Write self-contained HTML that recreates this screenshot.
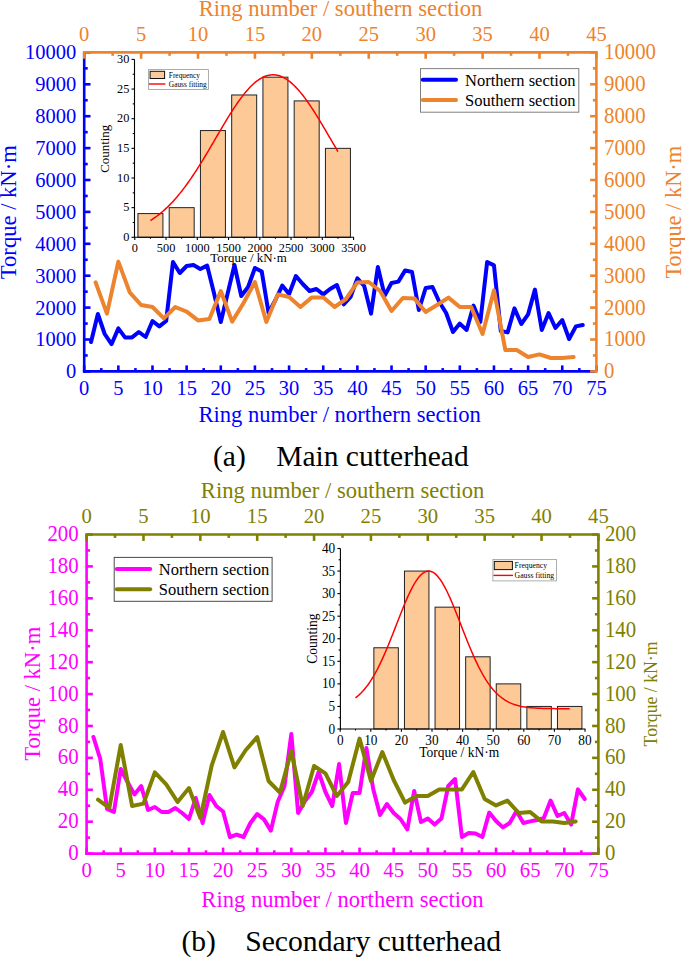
<!DOCTYPE html><html><head><meta charset="utf-8"><style>html,body{margin:0;padding:0;background:#fff;}svg{display:block;}</style></head><body>
<svg width="685" height="957" viewBox="0 0 685 957" style="font-family:'Liberation Serif',serif">
<rect width="685" height="957" fill="#fff"/>
<polyline points="91.03,342.00 97.86,314.00 104.69,334.00 111.52,344.20 118.35,328.40 125.18,337.60 132.01,337.40 138.83,332.00 145.66,337.00 152.49,321.00 159.32,326.40 166.15,321.00 172.98,262.00 179.81,273.00 186.64,266.00 193.47,265.00 200.30,269.00 207.13,265.60 213.96,293.00 220.79,322.00 227.62,293.60 234.45,265.00 241.27,296.00 248.10,287.00 254.93,268.00 261.76,271.60 268.59,313.00 275.42,300.00 282.25,285.60 289.08,294.00 295.91,276.00 302.74,284.00 309.57,291.00 316.40,289.00 323.23,294.40 330.06,289.00 336.89,285.00 343.71,304.40 350.54,297.00 357.37,278.40 364.20,286.00 371.03,313.60 377.86,267.00 384.69,295.60 391.52,283.00 398.35,281.60 405.18,270.40 412.01,272.00 418.84,310.00 425.67,288.00 432.50,287.00 439.33,302.00 446.15,313.00 452.98,332.00 459.81,323.60 466.64,330.00 473.47,305.60 480.30,322.00 487.13,262.00 493.96,265.40 500.79,331.00 507.62,332.40 514.45,308.40 521.28,324.00 528.11,314.40 534.94,289.60 541.77,330.00 548.59,313.00 555.42,328.00 562.25,320.00 569.08,339.00 575.91,326.40 582.74,325.00" fill="none" stroke="#0000FF" stroke-width="4" stroke-linejoin="round" stroke-linecap="round"/>
<polyline points="95.58,282.40 106.96,313.60 118.35,261.60 129.73,292.40 141.11,305.00 152.49,307.00 163.88,318.40 175.26,307.00 186.64,311.60 198.02,320.40 209.40,319.00 220.79,291.00 232.17,321.60 243.55,303.00 254.93,282.00 266.32,322.00 277.70,294.40 289.08,297.00 300.46,307.00 311.84,297.40 323.23,297.40 334.61,307.00 345.99,299.00 357.37,282.40 368.76,282.00 380.14,291.00 391.52,311.00 402.90,298.00 414.28,298.40 425.67,312.00 437.05,305.00 448.43,297.60 459.81,307.00 471.20,307.00 482.58,334.00 493.96,290.40 505.34,350.00 516.72,350.00 528.11,357.00 539.49,354.40 550.87,358.00 562.25,358.00 573.64,357.00" fill="none" stroke="#ED832D" stroke-width="4" stroke-linejoin="round" stroke-linecap="round"/>
<line x1="84.20" y1="52.40" x2="84.20" y2="372.70" stroke="#0000FF" stroke-width="2.6" stroke-linecap="butt"/>
<line x1="84.20" y1="371.40" x2="90.50" y2="371.40" stroke="#0000FF" stroke-width="2.6" stroke-linecap="butt"/>
<line x1="84.20" y1="355.45" x2="87.70" y2="355.45" stroke="#0000FF" stroke-width="2.6" stroke-linecap="butt"/>
<line x1="84.20" y1="339.50" x2="90.50" y2="339.50" stroke="#0000FF" stroke-width="2.6" stroke-linecap="butt"/>
<line x1="84.20" y1="323.55" x2="87.70" y2="323.55" stroke="#0000FF" stroke-width="2.6" stroke-linecap="butt"/>
<line x1="84.20" y1="307.60" x2="90.50" y2="307.60" stroke="#0000FF" stroke-width="2.6" stroke-linecap="butt"/>
<line x1="84.20" y1="291.65" x2="87.70" y2="291.65" stroke="#0000FF" stroke-width="2.6" stroke-linecap="butt"/>
<line x1="84.20" y1="275.70" x2="90.50" y2="275.70" stroke="#0000FF" stroke-width="2.6" stroke-linecap="butt"/>
<line x1="84.20" y1="259.75" x2="87.70" y2="259.75" stroke="#0000FF" stroke-width="2.6" stroke-linecap="butt"/>
<line x1="84.20" y1="243.80" x2="90.50" y2="243.80" stroke="#0000FF" stroke-width="2.6" stroke-linecap="butt"/>
<line x1="84.20" y1="227.85" x2="87.70" y2="227.85" stroke="#0000FF" stroke-width="2.6" stroke-linecap="butt"/>
<line x1="84.20" y1="211.90" x2="90.50" y2="211.90" stroke="#0000FF" stroke-width="2.6" stroke-linecap="butt"/>
<line x1="84.20" y1="195.95" x2="87.70" y2="195.95" stroke="#0000FF" stroke-width="2.6" stroke-linecap="butt"/>
<line x1="84.20" y1="180.00" x2="90.50" y2="180.00" stroke="#0000FF" stroke-width="2.6" stroke-linecap="butt"/>
<line x1="84.20" y1="164.05" x2="87.70" y2="164.05" stroke="#0000FF" stroke-width="2.6" stroke-linecap="butt"/>
<line x1="84.20" y1="148.10" x2="90.50" y2="148.10" stroke="#0000FF" stroke-width="2.6" stroke-linecap="butt"/>
<line x1="84.20" y1="132.15" x2="87.70" y2="132.15" stroke="#0000FF" stroke-width="2.6" stroke-linecap="butt"/>
<line x1="84.20" y1="116.20" x2="90.50" y2="116.20" stroke="#0000FF" stroke-width="2.6" stroke-linecap="butt"/>
<line x1="84.20" y1="100.25" x2="87.70" y2="100.25" stroke="#0000FF" stroke-width="2.6" stroke-linecap="butt"/>
<line x1="84.20" y1="84.30" x2="90.50" y2="84.30" stroke="#0000FF" stroke-width="2.6" stroke-linecap="butt"/>
<line x1="84.20" y1="68.35" x2="87.70" y2="68.35" stroke="#0000FF" stroke-width="2.6" stroke-linecap="butt"/>
<line x1="84.20" y1="52.40" x2="90.50" y2="52.40" stroke="#0000FF" stroke-width="2.6" stroke-linecap="butt"/>
<line x1="82.90" y1="371.40" x2="596.40" y2="371.40" stroke="#0000FF" stroke-width="2.6" stroke-linecap="butt"/>
<line x1="84.20" y1="371.40" x2="84.20" y2="365.40" stroke="#0000FF" stroke-width="2.6" stroke-linecap="butt"/>
<line x1="101.27" y1="371.40" x2="101.27" y2="368.10" stroke="#0000FF" stroke-width="2.6" stroke-linecap="butt"/>
<line x1="118.35" y1="371.40" x2="118.35" y2="365.40" stroke="#0000FF" stroke-width="2.6" stroke-linecap="butt"/>
<line x1="135.42" y1="371.40" x2="135.42" y2="368.10" stroke="#0000FF" stroke-width="2.6" stroke-linecap="butt"/>
<line x1="152.49" y1="371.40" x2="152.49" y2="365.40" stroke="#0000FF" stroke-width="2.6" stroke-linecap="butt"/>
<line x1="169.57" y1="371.40" x2="169.57" y2="368.10" stroke="#0000FF" stroke-width="2.6" stroke-linecap="butt"/>
<line x1="186.64" y1="371.40" x2="186.64" y2="365.40" stroke="#0000FF" stroke-width="2.6" stroke-linecap="butt"/>
<line x1="203.71" y1="371.40" x2="203.71" y2="368.10" stroke="#0000FF" stroke-width="2.6" stroke-linecap="butt"/>
<line x1="220.79" y1="371.40" x2="220.79" y2="365.40" stroke="#0000FF" stroke-width="2.6" stroke-linecap="butt"/>
<line x1="237.86" y1="371.40" x2="237.86" y2="368.10" stroke="#0000FF" stroke-width="2.6" stroke-linecap="butt"/>
<line x1="254.93" y1="371.40" x2="254.93" y2="365.40" stroke="#0000FF" stroke-width="2.6" stroke-linecap="butt"/>
<line x1="272.01" y1="371.40" x2="272.01" y2="368.10" stroke="#0000FF" stroke-width="2.6" stroke-linecap="butt"/>
<line x1="289.08" y1="371.40" x2="289.08" y2="365.40" stroke="#0000FF" stroke-width="2.6" stroke-linecap="butt"/>
<line x1="306.15" y1="371.40" x2="306.15" y2="368.10" stroke="#0000FF" stroke-width="2.6" stroke-linecap="butt"/>
<line x1="323.23" y1="371.40" x2="323.23" y2="365.40" stroke="#0000FF" stroke-width="2.6" stroke-linecap="butt"/>
<line x1="340.30" y1="371.40" x2="340.30" y2="368.10" stroke="#0000FF" stroke-width="2.6" stroke-linecap="butt"/>
<line x1="357.37" y1="371.40" x2="357.37" y2="365.40" stroke="#0000FF" stroke-width="2.6" stroke-linecap="butt"/>
<line x1="374.45" y1="371.40" x2="374.45" y2="368.10" stroke="#0000FF" stroke-width="2.6" stroke-linecap="butt"/>
<line x1="391.52" y1="371.40" x2="391.52" y2="365.40" stroke="#0000FF" stroke-width="2.6" stroke-linecap="butt"/>
<line x1="408.59" y1="371.40" x2="408.59" y2="368.10" stroke="#0000FF" stroke-width="2.6" stroke-linecap="butt"/>
<line x1="425.67" y1="371.40" x2="425.67" y2="365.40" stroke="#0000FF" stroke-width="2.6" stroke-linecap="butt"/>
<line x1="442.74" y1="371.40" x2="442.74" y2="368.10" stroke="#0000FF" stroke-width="2.6" stroke-linecap="butt"/>
<line x1="459.81" y1="371.40" x2="459.81" y2="365.40" stroke="#0000FF" stroke-width="2.6" stroke-linecap="butt"/>
<line x1="476.89" y1="371.40" x2="476.89" y2="368.10" stroke="#0000FF" stroke-width="2.6" stroke-linecap="butt"/>
<line x1="493.96" y1="371.40" x2="493.96" y2="365.40" stroke="#0000FF" stroke-width="2.6" stroke-linecap="butt"/>
<line x1="511.03" y1="371.40" x2="511.03" y2="368.10" stroke="#0000FF" stroke-width="2.6" stroke-linecap="butt"/>
<line x1="528.11" y1="371.40" x2="528.11" y2="365.40" stroke="#0000FF" stroke-width="2.6" stroke-linecap="butt"/>
<line x1="545.18" y1="371.40" x2="545.18" y2="368.10" stroke="#0000FF" stroke-width="2.6" stroke-linecap="butt"/>
<line x1="562.25" y1="371.40" x2="562.25" y2="365.40" stroke="#0000FF" stroke-width="2.6" stroke-linecap="butt"/>
<line x1="579.33" y1="371.40" x2="579.33" y2="368.10" stroke="#0000FF" stroke-width="2.6" stroke-linecap="butt"/>
<line x1="596.40" y1="371.40" x2="596.40" y2="365.40" stroke="#0000FF" stroke-width="2.6" stroke-linecap="butt"/>
<line x1="596.40" y1="52.40" x2="596.40" y2="372.70" stroke="#ED832D" stroke-width="2.6" stroke-linecap="butt"/>
<line x1="596.40" y1="371.40" x2="590.10" y2="371.40" stroke="#ED832D" stroke-width="2.6" stroke-linecap="butt"/>
<line x1="596.40" y1="355.45" x2="592.90" y2="355.45" stroke="#ED832D" stroke-width="2.6" stroke-linecap="butt"/>
<line x1="596.40" y1="339.50" x2="590.10" y2="339.50" stroke="#ED832D" stroke-width="2.6" stroke-linecap="butt"/>
<line x1="596.40" y1="323.55" x2="592.90" y2="323.55" stroke="#ED832D" stroke-width="2.6" stroke-linecap="butt"/>
<line x1="596.40" y1="307.60" x2="590.10" y2="307.60" stroke="#ED832D" stroke-width="2.6" stroke-linecap="butt"/>
<line x1="596.40" y1="291.65" x2="592.90" y2="291.65" stroke="#ED832D" stroke-width="2.6" stroke-linecap="butt"/>
<line x1="596.40" y1="275.70" x2="590.10" y2="275.70" stroke="#ED832D" stroke-width="2.6" stroke-linecap="butt"/>
<line x1="596.40" y1="259.75" x2="592.90" y2="259.75" stroke="#ED832D" stroke-width="2.6" stroke-linecap="butt"/>
<line x1="596.40" y1="243.80" x2="590.10" y2="243.80" stroke="#ED832D" stroke-width="2.6" stroke-linecap="butt"/>
<line x1="596.40" y1="227.85" x2="592.90" y2="227.85" stroke="#ED832D" stroke-width="2.6" stroke-linecap="butt"/>
<line x1="596.40" y1="211.90" x2="590.10" y2="211.90" stroke="#ED832D" stroke-width="2.6" stroke-linecap="butt"/>
<line x1="596.40" y1="195.95" x2="592.90" y2="195.95" stroke="#ED832D" stroke-width="2.6" stroke-linecap="butt"/>
<line x1="596.40" y1="180.00" x2="590.10" y2="180.00" stroke="#ED832D" stroke-width="2.6" stroke-linecap="butt"/>
<line x1="596.40" y1="164.05" x2="592.90" y2="164.05" stroke="#ED832D" stroke-width="2.6" stroke-linecap="butt"/>
<line x1="596.40" y1="148.10" x2="590.10" y2="148.10" stroke="#ED832D" stroke-width="2.6" stroke-linecap="butt"/>
<line x1="596.40" y1="132.15" x2="592.90" y2="132.15" stroke="#ED832D" stroke-width="2.6" stroke-linecap="butt"/>
<line x1="596.40" y1="116.20" x2="590.10" y2="116.20" stroke="#ED832D" stroke-width="2.6" stroke-linecap="butt"/>
<line x1="596.40" y1="100.25" x2="592.90" y2="100.25" stroke="#ED832D" stroke-width="2.6" stroke-linecap="butt"/>
<line x1="596.40" y1="84.30" x2="590.10" y2="84.30" stroke="#ED832D" stroke-width="2.6" stroke-linecap="butt"/>
<line x1="596.40" y1="68.35" x2="592.90" y2="68.35" stroke="#ED832D" stroke-width="2.6" stroke-linecap="butt"/>
<line x1="596.40" y1="52.40" x2="590.10" y2="52.40" stroke="#ED832D" stroke-width="2.6" stroke-linecap="butt"/>
<line x1="82.90" y1="52.40" x2="597.70" y2="52.40" stroke="#ED832D" stroke-width="2.6" stroke-linecap="butt"/>
<line x1="84.20" y1="52.40" x2="84.20" y2="58.80" stroke="#ED832D" stroke-width="2.6" stroke-linecap="butt"/>
<line x1="112.66" y1="52.40" x2="112.66" y2="55.80" stroke="#ED832D" stroke-width="2.6" stroke-linecap="butt"/>
<line x1="141.11" y1="52.40" x2="141.11" y2="58.80" stroke="#ED832D" stroke-width="2.6" stroke-linecap="butt"/>
<line x1="169.57" y1="52.40" x2="169.57" y2="55.80" stroke="#ED832D" stroke-width="2.6" stroke-linecap="butt"/>
<line x1="198.02" y1="52.40" x2="198.02" y2="58.80" stroke="#ED832D" stroke-width="2.6" stroke-linecap="butt"/>
<line x1="226.48" y1="52.40" x2="226.48" y2="55.80" stroke="#ED832D" stroke-width="2.6" stroke-linecap="butt"/>
<line x1="254.93" y1="52.40" x2="254.93" y2="58.80" stroke="#ED832D" stroke-width="2.6" stroke-linecap="butt"/>
<line x1="283.39" y1="52.40" x2="283.39" y2="55.80" stroke="#ED832D" stroke-width="2.6" stroke-linecap="butt"/>
<line x1="311.84" y1="52.40" x2="311.84" y2="58.80" stroke="#ED832D" stroke-width="2.6" stroke-linecap="butt"/>
<line x1="340.30" y1="52.40" x2="340.30" y2="55.80" stroke="#ED832D" stroke-width="2.6" stroke-linecap="butt"/>
<line x1="368.76" y1="52.40" x2="368.76" y2="58.80" stroke="#ED832D" stroke-width="2.6" stroke-linecap="butt"/>
<line x1="397.21" y1="52.40" x2="397.21" y2="55.80" stroke="#ED832D" stroke-width="2.6" stroke-linecap="butt"/>
<line x1="425.67" y1="52.40" x2="425.67" y2="58.80" stroke="#ED832D" stroke-width="2.6" stroke-linecap="butt"/>
<line x1="454.12" y1="52.40" x2="454.12" y2="55.80" stroke="#ED832D" stroke-width="2.6" stroke-linecap="butt"/>
<line x1="482.58" y1="52.40" x2="482.58" y2="58.80" stroke="#ED832D" stroke-width="2.6" stroke-linecap="butt"/>
<line x1="511.03" y1="52.40" x2="511.03" y2="55.80" stroke="#ED832D" stroke-width="2.6" stroke-linecap="butt"/>
<line x1="539.49" y1="52.40" x2="539.49" y2="58.80" stroke="#ED832D" stroke-width="2.6" stroke-linecap="butt"/>
<line x1="567.94" y1="52.40" x2="567.94" y2="55.80" stroke="#ED832D" stroke-width="2.6" stroke-linecap="butt"/>
<line x1="596.40" y1="52.40" x2="596.40" y2="58.80" stroke="#ED832D" stroke-width="2.6" stroke-linecap="butt"/>
<text x="0" y="0" font-size="20.5" fill="#0000FF" text-anchor="middle" transform="translate(84.20 394.80) scale(1 1.06)">0</text>
<text x="0" y="0" font-size="20.5" fill="#0000FF" text-anchor="middle" transform="translate(118.35 394.80) scale(1 1.06)">5</text>
<text x="0" y="0" font-size="20.5" fill="#0000FF" text-anchor="middle" transform="translate(152.49 394.80) scale(1 1.06)">10</text>
<text x="0" y="0" font-size="20.5" fill="#0000FF" text-anchor="middle" transform="translate(186.64 394.80) scale(1 1.06)">15</text>
<text x="0" y="0" font-size="20.5" fill="#0000FF" text-anchor="middle" transform="translate(220.79 394.80) scale(1 1.06)">20</text>
<text x="0" y="0" font-size="20.5" fill="#0000FF" text-anchor="middle" transform="translate(254.93 394.80) scale(1 1.06)">25</text>
<text x="0" y="0" font-size="20.5" fill="#0000FF" text-anchor="middle" transform="translate(289.08 394.80) scale(1 1.06)">30</text>
<text x="0" y="0" font-size="20.5" fill="#0000FF" text-anchor="middle" transform="translate(323.23 394.80) scale(1 1.06)">35</text>
<text x="0" y="0" font-size="20.5" fill="#0000FF" text-anchor="middle" transform="translate(357.37 394.80) scale(1 1.06)">40</text>
<text x="0" y="0" font-size="20.5" fill="#0000FF" text-anchor="middle" transform="translate(391.52 394.80) scale(1 1.06)">45</text>
<text x="0" y="0" font-size="20.5" fill="#0000FF" text-anchor="middle" transform="translate(425.67 394.80) scale(1 1.06)">50</text>
<text x="0" y="0" font-size="20.5" fill="#0000FF" text-anchor="middle" transform="translate(459.81 394.80) scale(1 1.06)">55</text>
<text x="0" y="0" font-size="20.5" fill="#0000FF" text-anchor="middle" transform="translate(493.96 394.80) scale(1 1.06)">60</text>
<text x="0" y="0" font-size="20.5" fill="#0000FF" text-anchor="middle" transform="translate(528.11 394.80) scale(1 1.06)">65</text>
<text x="0" y="0" font-size="20.5" fill="#0000FF" text-anchor="middle" transform="translate(562.25 394.80) scale(1 1.06)">70</text>
<text x="0" y="0" font-size="20.5" fill="#0000FF" text-anchor="middle" transform="translate(596.40 394.80) scale(1 1.06)">75</text>
<text x="0" y="0" font-size="20.5" fill="#ED832D" text-anchor="middle" transform="translate(84.20 41.20) scale(1 1.06)">0</text>
<text x="0" y="0" font-size="20.5" fill="#ED832D" text-anchor="middle" transform="translate(141.11 41.20) scale(1 1.06)">5</text>
<text x="0" y="0" font-size="20.5" fill="#ED832D" text-anchor="middle" transform="translate(198.02 41.20) scale(1 1.06)">10</text>
<text x="0" y="0" font-size="20.5" fill="#ED832D" text-anchor="middle" transform="translate(254.93 41.20) scale(1 1.06)">15</text>
<text x="0" y="0" font-size="20.5" fill="#ED832D" text-anchor="middle" transform="translate(311.84 41.20) scale(1 1.06)">20</text>
<text x="0" y="0" font-size="20.5" fill="#ED832D" text-anchor="middle" transform="translate(368.76 41.20) scale(1 1.06)">25</text>
<text x="0" y="0" font-size="20.5" fill="#ED832D" text-anchor="middle" transform="translate(425.67 41.20) scale(1 1.06)">30</text>
<text x="0" y="0" font-size="20.5" fill="#ED832D" text-anchor="middle" transform="translate(482.58 41.20) scale(1 1.06)">35</text>
<text x="0" y="0" font-size="20.5" fill="#ED832D" text-anchor="middle" transform="translate(539.49 41.20) scale(1 1.06)">40</text>
<text x="0" y="0" font-size="20.5" fill="#ED832D" text-anchor="middle" transform="translate(596.40 41.20) scale(1 1.06)">45</text>
<text x="0" y="0" font-size="20.5" fill="#0000FF" text-anchor="end" transform="translate(76.20 378.30) scale(1 1.06)">0</text>
<text x="0" y="0" font-size="20.8" fill="#ED832D" text-anchor="start" transform="translate(604.00 378.30) scale(1 1.06)">0</text>
<text x="0" y="0" font-size="20.5" fill="#0000FF" text-anchor="end" transform="translate(76.20 346.40) scale(1 1.06)">1000</text>
<text x="0" y="0" font-size="20.8" fill="#ED832D" text-anchor="start" transform="translate(604.00 346.40) scale(1 1.06)">1000</text>
<text x="0" y="0" font-size="20.5" fill="#0000FF" text-anchor="end" transform="translate(76.20 314.50) scale(1 1.06)">2000</text>
<text x="0" y="0" font-size="20.8" fill="#ED832D" text-anchor="start" transform="translate(604.00 314.50) scale(1 1.06)">2000</text>
<text x="0" y="0" font-size="20.5" fill="#0000FF" text-anchor="end" transform="translate(76.20 282.60) scale(1 1.06)">3000</text>
<text x="0" y="0" font-size="20.8" fill="#ED832D" text-anchor="start" transform="translate(604.00 282.60) scale(1 1.06)">3000</text>
<text x="0" y="0" font-size="20.5" fill="#0000FF" text-anchor="end" transform="translate(76.20 250.70) scale(1 1.06)">4000</text>
<text x="0" y="0" font-size="20.8" fill="#ED832D" text-anchor="start" transform="translate(604.00 250.70) scale(1 1.06)">4000</text>
<text x="0" y="0" font-size="20.5" fill="#0000FF" text-anchor="end" transform="translate(76.20 218.80) scale(1 1.06)">5000</text>
<text x="0" y="0" font-size="20.8" fill="#ED832D" text-anchor="start" transform="translate(604.00 218.80) scale(1 1.06)">5000</text>
<text x="0" y="0" font-size="20.5" fill="#0000FF" text-anchor="end" transform="translate(76.20 186.90) scale(1 1.06)">6000</text>
<text x="0" y="0" font-size="20.8" fill="#ED832D" text-anchor="start" transform="translate(604.00 186.90) scale(1 1.06)">6000</text>
<text x="0" y="0" font-size="20.5" fill="#0000FF" text-anchor="end" transform="translate(76.20 155.00) scale(1 1.06)">7000</text>
<text x="0" y="0" font-size="20.8" fill="#ED832D" text-anchor="start" transform="translate(604.00 155.00) scale(1 1.06)">7000</text>
<text x="0" y="0" font-size="20.5" fill="#0000FF" text-anchor="end" transform="translate(76.20 123.10) scale(1 1.06)">8000</text>
<text x="0" y="0" font-size="20.8" fill="#ED832D" text-anchor="start" transform="translate(604.00 123.10) scale(1 1.06)">8000</text>
<text x="0" y="0" font-size="20.5" fill="#0000FF" text-anchor="end" transform="translate(76.20 91.20) scale(1 1.06)">9000</text>
<text x="0" y="0" font-size="20.8" fill="#ED832D" text-anchor="start" transform="translate(604.00 91.20) scale(1 1.06)">9000</text>
<text x="0" y="0" font-size="20.5" fill="#0000FF" text-anchor="end" transform="translate(76.20 59.30) scale(1 1.06)">10000</text>
<text x="0" y="0" font-size="20.8" fill="#ED832D" text-anchor="start" transform="translate(604.00 59.30) scale(1 1.06)">10000</text>
<text x="0" y="0" font-size="22.6" fill="#ED832D" text-anchor="middle" transform="translate(340.50 15.50) scale(1 1.04)">Ring number / southern section</text>
<text x="0" y="0" font-size="22.6" fill="#0000FF" text-anchor="middle" transform="translate(339.60 421.50) scale(1 1.04)">Ring number / northern section</text>
<text x="0" y="0" font-size="22.6" fill="#0000FF" text-anchor="middle" transform="translate(16.10 212.20) rotate(-90) scale(1 1.04)">Torque / kN·m</text>
<text x="0" y="0" font-size="22.4" fill="#ED832D" text-anchor="middle" transform="translate(680.70 212.20) rotate(-90) scale(1 1.04)">Torque / kN·m</text>
<rect x="420.5" y="68.6" width="158.3" height="43.6" fill="#fff" stroke="#808080" stroke-width="1"/>
<line x1="422.80" y1="79.70" x2="456.00" y2="79.70" stroke="#0000FF" stroke-width="4" stroke-linecap="round"/>
<line x1="422.80" y1="100.10" x2="456.00" y2="100.10" stroke="#ED832D" stroke-width="4" stroke-linecap="round"/>
<text x="0" y="0" font-size="16.5" fill="#000" text-anchor="start" transform="translate(465.00 86.00) scale(1 1.04)">Northern section</text>
<text x="0" y="0" font-size="16.5" fill="#000" text-anchor="start" transform="translate(465.00 106.20) scale(1 1.04)">Southern section</text>
<rect x="137.93" y="213.58" width="25.00" height="23.72" fill="#FCC997" stroke="#222" stroke-width="1"/>
<rect x="169.18" y="207.65" width="25.00" height="29.65" fill="#FCC997" stroke="#222" stroke-width="1"/>
<rect x="200.43" y="130.56" width="25.00" height="106.74" fill="#FCC997" stroke="#222" stroke-width="1"/>
<rect x="231.68" y="94.98" width="25.00" height="142.32" fill="#FCC997" stroke="#222" stroke-width="1"/>
<rect x="262.93" y="77.19" width="25.00" height="160.11" fill="#FCC997" stroke="#222" stroke-width="1"/>
<rect x="294.18" y="100.91" width="25.00" height="136.39" fill="#FCC997" stroke="#222" stroke-width="1"/>
<rect x="325.43" y="148.35" width="25.00" height="88.95" fill="#FCC997" stroke="#222" stroke-width="1"/>
<polyline points="150.43,220.50 151.99,219.51 153.55,218.47 155.11,217.38 156.68,216.25 158.24,215.07 159.80,213.84 161.36,212.56 162.93,211.23 164.49,209.85 166.05,208.42 167.61,206.93 169.18,205.40 170.74,203.81 172.30,202.16 173.86,200.46 175.43,198.71 176.99,196.91 178.55,195.05 180.11,193.14 181.68,191.18 183.24,189.16 184.80,187.09 186.36,184.98 187.93,182.81 189.49,180.60 191.05,178.34 192.61,176.04 194.18,173.69 195.74,171.31 197.30,168.88 198.86,166.42 200.43,163.92 201.99,161.39 203.55,158.83 205.11,156.24 206.68,153.64 208.24,151.01 209.80,148.36 211.36,145.70 212.93,143.03 214.49,140.36 216.05,137.68 217.61,135.00 219.18,132.33 220.74,129.67 222.30,127.02 223.86,124.40 225.43,121.79 226.99,119.21 228.55,116.66 230.11,114.15 231.68,111.68 233.24,109.26 234.80,106.88 236.36,104.56 237.93,102.29 239.49,100.09 241.05,97.96 242.61,95.90 244.18,93.91 245.74,92.00 247.30,90.18 248.86,88.44 250.43,86.79 251.99,85.24 253.55,83.79 255.11,82.43 256.68,81.18 258.24,80.03 259.80,79.00 261.36,78.07 262.93,77.26 264.49,76.56 266.05,75.98 267.61,75.51 269.18,75.16 270.74,74.94 272.30,74.83 273.86,74.84 275.43,74.97 276.99,75.22 278.55,75.59 280.11,76.08 281.68,76.69 283.24,77.41 284.80,78.25 286.36,79.19 287.93,80.25 289.49,81.42 291.05,82.69 292.61,84.07 294.18,85.54 295.74,87.12 297.30,88.78 298.86,90.54 300.43,92.38 301.99,94.30 303.55,96.30 305.11,98.38 306.68,100.53 308.24,102.74 309.80,105.02 311.36,107.35 312.93,109.74 314.49,112.17 316.05,114.65 317.61,117.17 319.18,119.72 320.74,122.31 322.30,124.92 323.86,127.55 325.43,130.20 326.99,132.87 328.55,135.54 330.11,138.21 331.68,140.89 333.24,143.57 334.80,146.23 336.36,148.89 337.93,151.53" fill="none" stroke="#F00" stroke-width="1.5"/>
<line x1="134.50" y1="59.40" x2="134.50" y2="237.80" stroke="#000" stroke-width="1.1" stroke-linecap="butt"/>
<line x1="134.00" y1="237.30" x2="354.05" y2="237.30" stroke="#000" stroke-width="1.1" stroke-linecap="butt"/>
<line x1="134.50" y1="237.30" x2="131.50" y2="237.30" stroke="#000" stroke-width="1.1" stroke-linecap="butt"/>
<line x1="134.50" y1="222.48" x2="132.70" y2="222.48" stroke="#000" stroke-width="1.1" stroke-linecap="butt"/>
<text x="0" y="0" font-size="12.3" fill="#000" text-anchor="end" transform="translate(129.30 240.80) scale(1 1.04)">0</text>
<line x1="134.50" y1="207.65" x2="131.50" y2="207.65" stroke="#000" stroke-width="1.1" stroke-linecap="butt"/>
<line x1="134.50" y1="192.83" x2="132.70" y2="192.83" stroke="#000" stroke-width="1.1" stroke-linecap="butt"/>
<text x="0" y="0" font-size="12.3" fill="#000" text-anchor="end" transform="translate(129.30 211.15) scale(1 1.04)">5</text>
<line x1="134.50" y1="178.00" x2="131.50" y2="178.00" stroke="#000" stroke-width="1.1" stroke-linecap="butt"/>
<line x1="134.50" y1="163.18" x2="132.70" y2="163.18" stroke="#000" stroke-width="1.1" stroke-linecap="butt"/>
<text x="0" y="0" font-size="12.3" fill="#000" text-anchor="end" transform="translate(129.30 181.50) scale(1 1.04)">10</text>
<line x1="134.50" y1="148.35" x2="131.50" y2="148.35" stroke="#000" stroke-width="1.1" stroke-linecap="butt"/>
<line x1="134.50" y1="133.53" x2="132.70" y2="133.53" stroke="#000" stroke-width="1.1" stroke-linecap="butt"/>
<text x="0" y="0" font-size="12.3" fill="#000" text-anchor="end" transform="translate(129.30 151.85) scale(1 1.04)">15</text>
<line x1="134.50" y1="118.70" x2="131.50" y2="118.70" stroke="#000" stroke-width="1.1" stroke-linecap="butt"/>
<line x1="134.50" y1="103.88" x2="132.70" y2="103.88" stroke="#000" stroke-width="1.1" stroke-linecap="butt"/>
<text x="0" y="0" font-size="12.3" fill="#000" text-anchor="end" transform="translate(129.30 122.20) scale(1 1.04)">20</text>
<line x1="134.50" y1="89.05" x2="131.50" y2="89.05" stroke="#000" stroke-width="1.1" stroke-linecap="butt"/>
<line x1="134.50" y1="74.23" x2="132.70" y2="74.23" stroke="#000" stroke-width="1.1" stroke-linecap="butt"/>
<text x="0" y="0" font-size="12.3" fill="#000" text-anchor="end" transform="translate(129.30 92.55) scale(1 1.04)">25</text>
<line x1="134.50" y1="59.40" x2="131.50" y2="59.40" stroke="#000" stroke-width="1.1" stroke-linecap="butt"/>
<text x="0" y="0" font-size="12.3" fill="#000" text-anchor="end" transform="translate(129.30 62.90) scale(1 1.04)">30</text>
<line x1="134.80" y1="237.30" x2="134.80" y2="240.10" stroke="#000" stroke-width="1.1" stroke-linecap="butt"/>
<line x1="150.43" y1="237.30" x2="150.43" y2="238.80" stroke="#000" stroke-width="1.1" stroke-linecap="butt"/>
<text x="0" y="0" font-size="12.3" fill="#000" text-anchor="middle" transform="translate(134.80 251.90) scale(1 1.04)">0</text>
<line x1="166.05" y1="237.30" x2="166.05" y2="240.10" stroke="#000" stroke-width="1.1" stroke-linecap="butt"/>
<line x1="181.68" y1="237.30" x2="181.68" y2="238.80" stroke="#000" stroke-width="1.1" stroke-linecap="butt"/>
<text x="0" y="0" font-size="12.3" fill="#000" text-anchor="middle" transform="translate(166.05 251.90) scale(1 1.04)">500</text>
<line x1="197.30" y1="237.30" x2="197.30" y2="240.10" stroke="#000" stroke-width="1.1" stroke-linecap="butt"/>
<line x1="212.93" y1="237.30" x2="212.93" y2="238.80" stroke="#000" stroke-width="1.1" stroke-linecap="butt"/>
<text x="0" y="0" font-size="12.3" fill="#000" text-anchor="middle" transform="translate(197.30 251.90) scale(1 1.04)">1000</text>
<line x1="228.55" y1="237.30" x2="228.55" y2="240.10" stroke="#000" stroke-width="1.1" stroke-linecap="butt"/>
<line x1="244.18" y1="237.30" x2="244.18" y2="238.80" stroke="#000" stroke-width="1.1" stroke-linecap="butt"/>
<text x="0" y="0" font-size="12.3" fill="#000" text-anchor="middle" transform="translate(228.55 251.90) scale(1 1.04)">1500</text>
<line x1="259.80" y1="237.30" x2="259.80" y2="240.10" stroke="#000" stroke-width="1.1" stroke-linecap="butt"/>
<line x1="275.43" y1="237.30" x2="275.43" y2="238.80" stroke="#000" stroke-width="1.1" stroke-linecap="butt"/>
<text x="0" y="0" font-size="12.3" fill="#000" text-anchor="middle" transform="translate(259.80 251.90) scale(1 1.04)">2000</text>
<line x1="291.05" y1="237.30" x2="291.05" y2="240.10" stroke="#000" stroke-width="1.1" stroke-linecap="butt"/>
<line x1="306.68" y1="237.30" x2="306.68" y2="238.80" stroke="#000" stroke-width="1.1" stroke-linecap="butt"/>
<text x="0" y="0" font-size="12.3" fill="#000" text-anchor="middle" transform="translate(291.05 251.90) scale(1 1.04)">2500</text>
<line x1="322.30" y1="237.30" x2="322.30" y2="240.10" stroke="#000" stroke-width="1.1" stroke-linecap="butt"/>
<line x1="337.93" y1="237.30" x2="337.93" y2="238.80" stroke="#000" stroke-width="1.1" stroke-linecap="butt"/>
<text x="0" y="0" font-size="12.3" fill="#000" text-anchor="middle" transform="translate(322.30 251.90) scale(1 1.04)">3000</text>
<line x1="353.55" y1="237.30" x2="353.55" y2="240.10" stroke="#000" stroke-width="1.1" stroke-linecap="butt"/>
<text x="0" y="0" font-size="12.3" fill="#000" text-anchor="middle" transform="translate(353.55 251.90) scale(1 1.04)">3500</text>
<text x="0" y="0" font-size="12.9" fill="#000" text-anchor="middle" transform="translate(248.60 262.20) scale(1 1.04)">Torque / kN·m</text>
<text x="0" y="0" font-size="12.9" fill="#000" text-anchor="middle" transform="translate(108.80 148.80) rotate(-90) scale(1 1.04)">Counting</text>
<rect x="148.4" y="69.6" width="60.2" height="19.9" fill="#fff" stroke="#999" stroke-width="0.8"/>
<rect x="150.1" y="71.3" width="14.5" height="7.2" fill="#FCC997" stroke="#111" stroke-width="1"/>
<line x1="148.90" y1="84.00" x2="165.40" y2="84.00" stroke="#F00" stroke-width="1.4" stroke-linecap="butt"/>
<text x="0" y="0" font-size="7.4" fill="#000" text-anchor="start" transform="translate(168.80 77.80) scale(1 1.04)">Frequency</text>
<text x="0" y="0" font-size="7.4" fill="#000" text-anchor="start" transform="translate(168.80 86.80) scale(1 1.04)">Gauss fitting</text>
<polyline points="93.42,737.00 100.25,759.00 107.07,809.00 113.90,812.00 120.72,769.00 127.54,782.00 134.37,794.40 141.19,786.00 148.02,810.00 154.84,807.00 161.66,812.00 168.49,812.00 175.31,808.00 182.14,813.00 188.96,819.00 195.78,798.00 202.61,823.00 209.43,795.00 216.26,806.00 223.08,811.50 229.90,837.00 236.73,834.60 243.55,837.00 250.38,823.00 257.20,814.00 264.02,819.40 270.85,830.60 277.67,802.00 284.50,786.00 291.32,734.00 298.14,813.00 304.97,801.00 311.79,792.00 318.62,772.00 325.44,792.00 332.26,806.00 339.09,764.00 345.91,823.00 352.74,793.00 359.56,793.00 366.38,748.00 373.21,789.00 380.03,815.00 386.86,804.00 393.68,813.00 400.50,819.00 407.33,829.40 414.15,791.00 420.98,822.00 427.80,818.60 434.62,824.60 441.45,818.60 448.27,786.00 455.10,779.00 461.92,837.00 468.74,833.00 475.57,833.40 482.39,837.00 489.22,812.60 496.04,821.00 502.86,827.40 509.69,823.00 516.51,811.00 523.34,823.00 530.16,821.40 536.98,820.00 543.81,818.00 550.63,800.60 557.46,816.00 564.28,813.00 571.10,824.60 577.93,789.40 584.75,799.00" fill="none" stroke="#FF00FF" stroke-width="4" stroke-linejoin="round" stroke-linecap="round"/>
<polyline points="97.97,799.60 109.35,808.00 120.72,745.00 132.09,806.00 143.47,803.60 154.84,772.40 166.21,784.40 177.59,802.00 188.96,788.00 200.33,818.00 211.71,765.50 223.08,732.00 234.45,767.40 245.83,750.00 257.20,737.00 268.57,781.00 279.95,792.60 291.32,751.00 302.69,806.00 314.07,766.00 325.44,773.40 336.81,796.00 348.19,782.00 359.56,738.60 370.93,781.00 382.31,752.00 393.68,780.00 405.05,802.60 416.43,796.00 427.80,796.00 439.17,789.40 450.55,789.40 461.92,789.40 473.29,772.00 484.67,799.00 496.04,805.40 507.41,800.60 518.79,813.00 530.16,812.00 541.53,821.40 552.91,821.40 564.28,823.00 575.65,821.40" fill="none" stroke="#808000" stroke-width="4" stroke-linejoin="round" stroke-linecap="round"/>
<line x1="86.60" y1="534.50" x2="86.60" y2="854.90" stroke="#FF00FF" stroke-width="2.6" stroke-linecap="butt"/>
<line x1="86.60" y1="853.60" x2="92.90" y2="853.60" stroke="#FF00FF" stroke-width="2.6" stroke-linecap="butt"/>
<line x1="86.60" y1="837.64" x2="90.10" y2="837.64" stroke="#FF00FF" stroke-width="2.6" stroke-linecap="butt"/>
<line x1="86.60" y1="821.69" x2="92.90" y2="821.69" stroke="#FF00FF" stroke-width="2.6" stroke-linecap="butt"/>
<line x1="86.60" y1="805.74" x2="90.10" y2="805.74" stroke="#FF00FF" stroke-width="2.6" stroke-linecap="butt"/>
<line x1="86.60" y1="789.78" x2="92.90" y2="789.78" stroke="#FF00FF" stroke-width="2.6" stroke-linecap="butt"/>
<line x1="86.60" y1="773.83" x2="90.10" y2="773.83" stroke="#FF00FF" stroke-width="2.6" stroke-linecap="butt"/>
<line x1="86.60" y1="757.87" x2="92.90" y2="757.87" stroke="#FF00FF" stroke-width="2.6" stroke-linecap="butt"/>
<line x1="86.60" y1="741.91" x2="90.10" y2="741.91" stroke="#FF00FF" stroke-width="2.6" stroke-linecap="butt"/>
<line x1="86.60" y1="725.96" x2="92.90" y2="725.96" stroke="#FF00FF" stroke-width="2.6" stroke-linecap="butt"/>
<line x1="86.60" y1="710.00" x2="90.10" y2="710.00" stroke="#FF00FF" stroke-width="2.6" stroke-linecap="butt"/>
<line x1="86.60" y1="694.05" x2="92.90" y2="694.05" stroke="#FF00FF" stroke-width="2.6" stroke-linecap="butt"/>
<line x1="86.60" y1="678.10" x2="90.10" y2="678.10" stroke="#FF00FF" stroke-width="2.6" stroke-linecap="butt"/>
<line x1="86.60" y1="662.14" x2="92.90" y2="662.14" stroke="#FF00FF" stroke-width="2.6" stroke-linecap="butt"/>
<line x1="86.60" y1="646.18" x2="90.10" y2="646.18" stroke="#FF00FF" stroke-width="2.6" stroke-linecap="butt"/>
<line x1="86.60" y1="630.23" x2="92.90" y2="630.23" stroke="#FF00FF" stroke-width="2.6" stroke-linecap="butt"/>
<line x1="86.60" y1="614.27" x2="90.10" y2="614.27" stroke="#FF00FF" stroke-width="2.6" stroke-linecap="butt"/>
<line x1="86.60" y1="598.32" x2="92.90" y2="598.32" stroke="#FF00FF" stroke-width="2.6" stroke-linecap="butt"/>
<line x1="86.60" y1="582.37" x2="90.10" y2="582.37" stroke="#FF00FF" stroke-width="2.6" stroke-linecap="butt"/>
<line x1="86.60" y1="566.41" x2="92.90" y2="566.41" stroke="#FF00FF" stroke-width="2.6" stroke-linecap="butt"/>
<line x1="86.60" y1="550.45" x2="90.10" y2="550.45" stroke="#FF00FF" stroke-width="2.6" stroke-linecap="butt"/>
<line x1="86.60" y1="534.50" x2="92.90" y2="534.50" stroke="#FF00FF" stroke-width="2.6" stroke-linecap="butt"/>
<line x1="85.30" y1="853.60" x2="598.40" y2="853.60" stroke="#FF00FF" stroke-width="2.6" stroke-linecap="butt"/>
<line x1="86.60" y1="853.60" x2="86.60" y2="847.60" stroke="#FF00FF" stroke-width="2.6" stroke-linecap="butt"/>
<line x1="103.66" y1="853.60" x2="103.66" y2="850.30" stroke="#FF00FF" stroke-width="2.6" stroke-linecap="butt"/>
<line x1="120.72" y1="853.60" x2="120.72" y2="847.60" stroke="#FF00FF" stroke-width="2.6" stroke-linecap="butt"/>
<line x1="137.78" y1="853.60" x2="137.78" y2="850.30" stroke="#FF00FF" stroke-width="2.6" stroke-linecap="butt"/>
<line x1="154.84" y1="853.60" x2="154.84" y2="847.60" stroke="#FF00FF" stroke-width="2.6" stroke-linecap="butt"/>
<line x1="171.90" y1="853.60" x2="171.90" y2="850.30" stroke="#FF00FF" stroke-width="2.6" stroke-linecap="butt"/>
<line x1="188.96" y1="853.60" x2="188.96" y2="847.60" stroke="#FF00FF" stroke-width="2.6" stroke-linecap="butt"/>
<line x1="206.02" y1="853.60" x2="206.02" y2="850.30" stroke="#FF00FF" stroke-width="2.6" stroke-linecap="butt"/>
<line x1="223.08" y1="853.60" x2="223.08" y2="847.60" stroke="#FF00FF" stroke-width="2.6" stroke-linecap="butt"/>
<line x1="240.14" y1="853.60" x2="240.14" y2="850.30" stroke="#FF00FF" stroke-width="2.6" stroke-linecap="butt"/>
<line x1="257.20" y1="853.60" x2="257.20" y2="847.60" stroke="#FF00FF" stroke-width="2.6" stroke-linecap="butt"/>
<line x1="274.26" y1="853.60" x2="274.26" y2="850.30" stroke="#FF00FF" stroke-width="2.6" stroke-linecap="butt"/>
<line x1="291.32" y1="853.60" x2="291.32" y2="847.60" stroke="#FF00FF" stroke-width="2.6" stroke-linecap="butt"/>
<line x1="308.38" y1="853.60" x2="308.38" y2="850.30" stroke="#FF00FF" stroke-width="2.6" stroke-linecap="butt"/>
<line x1="325.44" y1="853.60" x2="325.44" y2="847.60" stroke="#FF00FF" stroke-width="2.6" stroke-linecap="butt"/>
<line x1="342.50" y1="853.60" x2="342.50" y2="850.30" stroke="#FF00FF" stroke-width="2.6" stroke-linecap="butt"/>
<line x1="359.56" y1="853.60" x2="359.56" y2="847.60" stroke="#FF00FF" stroke-width="2.6" stroke-linecap="butt"/>
<line x1="376.62" y1="853.60" x2="376.62" y2="850.30" stroke="#FF00FF" stroke-width="2.6" stroke-linecap="butt"/>
<line x1="393.68" y1="853.60" x2="393.68" y2="847.60" stroke="#FF00FF" stroke-width="2.6" stroke-linecap="butt"/>
<line x1="410.74" y1="853.60" x2="410.74" y2="850.30" stroke="#FF00FF" stroke-width="2.6" stroke-linecap="butt"/>
<line x1="427.80" y1="853.60" x2="427.80" y2="847.60" stroke="#FF00FF" stroke-width="2.6" stroke-linecap="butt"/>
<line x1="444.86" y1="853.60" x2="444.86" y2="850.30" stroke="#FF00FF" stroke-width="2.6" stroke-linecap="butt"/>
<line x1="461.92" y1="853.60" x2="461.92" y2="847.60" stroke="#FF00FF" stroke-width="2.6" stroke-linecap="butt"/>
<line x1="478.98" y1="853.60" x2="478.98" y2="850.30" stroke="#FF00FF" stroke-width="2.6" stroke-linecap="butt"/>
<line x1="496.04" y1="853.60" x2="496.04" y2="847.60" stroke="#FF00FF" stroke-width="2.6" stroke-linecap="butt"/>
<line x1="513.10" y1="853.60" x2="513.10" y2="850.30" stroke="#FF00FF" stroke-width="2.6" stroke-linecap="butt"/>
<line x1="530.16" y1="853.60" x2="530.16" y2="847.60" stroke="#FF00FF" stroke-width="2.6" stroke-linecap="butt"/>
<line x1="547.22" y1="853.60" x2="547.22" y2="850.30" stroke="#FF00FF" stroke-width="2.6" stroke-linecap="butt"/>
<line x1="564.28" y1="853.60" x2="564.28" y2="847.60" stroke="#FF00FF" stroke-width="2.6" stroke-linecap="butt"/>
<line x1="581.34" y1="853.60" x2="581.34" y2="850.30" stroke="#FF00FF" stroke-width="2.6" stroke-linecap="butt"/>
<line x1="598.40" y1="853.60" x2="598.40" y2="847.60" stroke="#FF00FF" stroke-width="2.6" stroke-linecap="butt"/>
<line x1="598.40" y1="534.50" x2="598.40" y2="854.90" stroke="#808000" stroke-width="2.6" stroke-linecap="butt"/>
<line x1="598.40" y1="853.60" x2="592.10" y2="853.60" stroke="#808000" stroke-width="2.6" stroke-linecap="butt"/>
<line x1="598.40" y1="837.64" x2="594.90" y2="837.64" stroke="#808000" stroke-width="2.6" stroke-linecap="butt"/>
<line x1="598.40" y1="821.69" x2="592.10" y2="821.69" stroke="#808000" stroke-width="2.6" stroke-linecap="butt"/>
<line x1="598.40" y1="805.74" x2="594.90" y2="805.74" stroke="#808000" stroke-width="2.6" stroke-linecap="butt"/>
<line x1="598.40" y1="789.78" x2="592.10" y2="789.78" stroke="#808000" stroke-width="2.6" stroke-linecap="butt"/>
<line x1="598.40" y1="773.83" x2="594.90" y2="773.83" stroke="#808000" stroke-width="2.6" stroke-linecap="butt"/>
<line x1="598.40" y1="757.87" x2="592.10" y2="757.87" stroke="#808000" stroke-width="2.6" stroke-linecap="butt"/>
<line x1="598.40" y1="741.91" x2="594.90" y2="741.91" stroke="#808000" stroke-width="2.6" stroke-linecap="butt"/>
<line x1="598.40" y1="725.96" x2="592.10" y2="725.96" stroke="#808000" stroke-width="2.6" stroke-linecap="butt"/>
<line x1="598.40" y1="710.00" x2="594.90" y2="710.00" stroke="#808000" stroke-width="2.6" stroke-linecap="butt"/>
<line x1="598.40" y1="694.05" x2="592.10" y2="694.05" stroke="#808000" stroke-width="2.6" stroke-linecap="butt"/>
<line x1="598.40" y1="678.10" x2="594.90" y2="678.10" stroke="#808000" stroke-width="2.6" stroke-linecap="butt"/>
<line x1="598.40" y1="662.14" x2="592.10" y2="662.14" stroke="#808000" stroke-width="2.6" stroke-linecap="butt"/>
<line x1="598.40" y1="646.18" x2="594.90" y2="646.18" stroke="#808000" stroke-width="2.6" stroke-linecap="butt"/>
<line x1="598.40" y1="630.23" x2="592.10" y2="630.23" stroke="#808000" stroke-width="2.6" stroke-linecap="butt"/>
<line x1="598.40" y1="614.27" x2="594.90" y2="614.27" stroke="#808000" stroke-width="2.6" stroke-linecap="butt"/>
<line x1="598.40" y1="598.32" x2="592.10" y2="598.32" stroke="#808000" stroke-width="2.6" stroke-linecap="butt"/>
<line x1="598.40" y1="582.37" x2="594.90" y2="582.37" stroke="#808000" stroke-width="2.6" stroke-linecap="butt"/>
<line x1="598.40" y1="566.41" x2="592.10" y2="566.41" stroke="#808000" stroke-width="2.6" stroke-linecap="butt"/>
<line x1="598.40" y1="550.45" x2="594.90" y2="550.45" stroke="#808000" stroke-width="2.6" stroke-linecap="butt"/>
<line x1="598.40" y1="534.50" x2="592.10" y2="534.50" stroke="#808000" stroke-width="2.6" stroke-linecap="butt"/>
<line x1="85.30" y1="534.50" x2="599.70" y2="534.50" stroke="#808000" stroke-width="2.6" stroke-linecap="butt"/>
<line x1="86.60" y1="534.50" x2="86.60" y2="540.90" stroke="#808000" stroke-width="2.6" stroke-linecap="butt"/>
<line x1="115.03" y1="534.50" x2="115.03" y2="537.90" stroke="#808000" stroke-width="2.6" stroke-linecap="butt"/>
<line x1="143.47" y1="534.50" x2="143.47" y2="540.90" stroke="#808000" stroke-width="2.6" stroke-linecap="butt"/>
<line x1="171.90" y1="534.50" x2="171.90" y2="537.90" stroke="#808000" stroke-width="2.6" stroke-linecap="butt"/>
<line x1="200.33" y1="534.50" x2="200.33" y2="540.90" stroke="#808000" stroke-width="2.6" stroke-linecap="butt"/>
<line x1="228.77" y1="534.50" x2="228.77" y2="537.90" stroke="#808000" stroke-width="2.6" stroke-linecap="butt"/>
<line x1="257.20" y1="534.50" x2="257.20" y2="540.90" stroke="#808000" stroke-width="2.6" stroke-linecap="butt"/>
<line x1="285.63" y1="534.50" x2="285.63" y2="537.90" stroke="#808000" stroke-width="2.6" stroke-linecap="butt"/>
<line x1="314.07" y1="534.50" x2="314.07" y2="540.90" stroke="#808000" stroke-width="2.6" stroke-linecap="butt"/>
<line x1="342.50" y1="534.50" x2="342.50" y2="537.90" stroke="#808000" stroke-width="2.6" stroke-linecap="butt"/>
<line x1="370.93" y1="534.50" x2="370.93" y2="540.90" stroke="#808000" stroke-width="2.6" stroke-linecap="butt"/>
<line x1="399.37" y1="534.50" x2="399.37" y2="537.90" stroke="#808000" stroke-width="2.6" stroke-linecap="butt"/>
<line x1="427.80" y1="534.50" x2="427.80" y2="540.90" stroke="#808000" stroke-width="2.6" stroke-linecap="butt"/>
<line x1="456.23" y1="534.50" x2="456.23" y2="537.90" stroke="#808000" stroke-width="2.6" stroke-linecap="butt"/>
<line x1="484.67" y1="534.50" x2="484.67" y2="540.90" stroke="#808000" stroke-width="2.6" stroke-linecap="butt"/>
<line x1="513.10" y1="534.50" x2="513.10" y2="537.90" stroke="#808000" stroke-width="2.6" stroke-linecap="butt"/>
<line x1="541.53" y1="534.50" x2="541.53" y2="540.90" stroke="#808000" stroke-width="2.6" stroke-linecap="butt"/>
<line x1="569.97" y1="534.50" x2="569.97" y2="537.90" stroke="#808000" stroke-width="2.6" stroke-linecap="butt"/>
<line x1="598.40" y1="534.50" x2="598.40" y2="540.90" stroke="#808000" stroke-width="2.6" stroke-linecap="butt"/>
<text x="0" y="0" font-size="20.7" fill="#FF00FF" text-anchor="middle" transform="translate(86.60 876.50) scale(1 1.06)">0</text>
<text x="0" y="0" font-size="20.7" fill="#FF00FF" text-anchor="middle" transform="translate(120.72 876.50) scale(1 1.06)">5</text>
<text x="0" y="0" font-size="20.7" fill="#FF00FF" text-anchor="middle" transform="translate(154.84 876.50) scale(1 1.06)">10</text>
<text x="0" y="0" font-size="20.7" fill="#FF00FF" text-anchor="middle" transform="translate(188.96 876.50) scale(1 1.06)">15</text>
<text x="0" y="0" font-size="20.7" fill="#FF00FF" text-anchor="middle" transform="translate(223.08 876.50) scale(1 1.06)">20</text>
<text x="0" y="0" font-size="20.7" fill="#FF00FF" text-anchor="middle" transform="translate(257.20 876.50) scale(1 1.06)">25</text>
<text x="0" y="0" font-size="20.7" fill="#FF00FF" text-anchor="middle" transform="translate(291.32 876.50) scale(1 1.06)">30</text>
<text x="0" y="0" font-size="20.7" fill="#FF00FF" text-anchor="middle" transform="translate(325.44 876.50) scale(1 1.06)">35</text>
<text x="0" y="0" font-size="20.7" fill="#FF00FF" text-anchor="middle" transform="translate(359.56 876.50) scale(1 1.06)">40</text>
<text x="0" y="0" font-size="20.7" fill="#FF00FF" text-anchor="middle" transform="translate(393.68 876.50) scale(1 1.06)">45</text>
<text x="0" y="0" font-size="20.7" fill="#FF00FF" text-anchor="middle" transform="translate(427.80 876.50) scale(1 1.06)">50</text>
<text x="0" y="0" font-size="20.7" fill="#FF00FF" text-anchor="middle" transform="translate(461.92 876.50) scale(1 1.06)">55</text>
<text x="0" y="0" font-size="20.7" fill="#FF00FF" text-anchor="middle" transform="translate(496.04 876.50) scale(1 1.06)">60</text>
<text x="0" y="0" font-size="20.7" fill="#FF00FF" text-anchor="middle" transform="translate(530.16 876.50) scale(1 1.06)">65</text>
<text x="0" y="0" font-size="20.7" fill="#FF00FF" text-anchor="middle" transform="translate(564.28 876.50) scale(1 1.06)">70</text>
<text x="0" y="0" font-size="20.7" fill="#FF00FF" text-anchor="middle" transform="translate(598.40 876.50) scale(1 1.06)">75</text>
<text x="0" y="0" font-size="20.7" fill="#808000" text-anchor="middle" transform="translate(86.60 523.20) scale(1 1.06)">0</text>
<text x="0" y="0" font-size="20.7" fill="#808000" text-anchor="middle" transform="translate(143.47 523.20) scale(1 1.06)">5</text>
<text x="0" y="0" font-size="20.7" fill="#808000" text-anchor="middle" transform="translate(200.33 523.20) scale(1 1.06)">10</text>
<text x="0" y="0" font-size="20.7" fill="#808000" text-anchor="middle" transform="translate(257.20 523.20) scale(1 1.06)">15</text>
<text x="0" y="0" font-size="20.7" fill="#808000" text-anchor="middle" transform="translate(314.07 523.20) scale(1 1.06)">20</text>
<text x="0" y="0" font-size="20.7" fill="#808000" text-anchor="middle" transform="translate(370.93 523.20) scale(1 1.06)">25</text>
<text x="0" y="0" font-size="20.7" fill="#808000" text-anchor="middle" transform="translate(427.80 523.20) scale(1 1.06)">30</text>
<text x="0" y="0" font-size="20.7" fill="#808000" text-anchor="middle" transform="translate(484.67 523.20) scale(1 1.06)">35</text>
<text x="0" y="0" font-size="20.7" fill="#808000" text-anchor="middle" transform="translate(541.53 523.20) scale(1 1.06)">40</text>
<text x="0" y="0" font-size="20.7" fill="#808000" text-anchor="middle" transform="translate(598.40 523.20) scale(1 1.06)">45</text>
<text x="0" y="0" font-size="20.8" fill="#FF00FF" text-anchor="end" transform="translate(78.60 860.20) scale(1 1.06)">0</text>
<text x="0" y="0" font-size="20.8" fill="#808000" text-anchor="start" transform="translate(604.90 860.20) scale(1 1.06)">0</text>
<text x="0" y="0" font-size="20.8" fill="#FF00FF" text-anchor="end" transform="translate(78.60 828.29) scale(1 1.06)">20</text>
<text x="0" y="0" font-size="20.8" fill="#808000" text-anchor="start" transform="translate(604.90 828.29) scale(1 1.06)">20</text>
<text x="0" y="0" font-size="20.8" fill="#FF00FF" text-anchor="end" transform="translate(78.60 796.38) scale(1 1.06)">40</text>
<text x="0" y="0" font-size="20.8" fill="#808000" text-anchor="start" transform="translate(604.90 796.38) scale(1 1.06)">40</text>
<text x="0" y="0" font-size="20.8" fill="#FF00FF" text-anchor="end" transform="translate(78.60 764.47) scale(1 1.06)">60</text>
<text x="0" y="0" font-size="20.8" fill="#808000" text-anchor="start" transform="translate(604.90 764.47) scale(1 1.06)">60</text>
<text x="0" y="0" font-size="20.8" fill="#FF00FF" text-anchor="end" transform="translate(78.60 732.56) scale(1 1.06)">80</text>
<text x="0" y="0" font-size="20.8" fill="#808000" text-anchor="start" transform="translate(604.90 732.56) scale(1 1.06)">80</text>
<text x="0" y="0" font-size="20.8" fill="#FF00FF" text-anchor="end" transform="translate(78.60 700.65) scale(1 1.06)">100</text>
<text x="0" y="0" font-size="20.8" fill="#808000" text-anchor="start" transform="translate(604.90 700.65) scale(1 1.06)">100</text>
<text x="0" y="0" font-size="20.8" fill="#FF00FF" text-anchor="end" transform="translate(78.60 668.74) scale(1 1.06)">120</text>
<text x="0" y="0" font-size="20.8" fill="#808000" text-anchor="start" transform="translate(604.90 668.74) scale(1 1.06)">120</text>
<text x="0" y="0" font-size="20.8" fill="#FF00FF" text-anchor="end" transform="translate(78.60 636.83) scale(1 1.06)">140</text>
<text x="0" y="0" font-size="20.8" fill="#808000" text-anchor="start" transform="translate(604.90 636.83) scale(1 1.06)">140</text>
<text x="0" y="0" font-size="20.8" fill="#FF00FF" text-anchor="end" transform="translate(78.60 604.92) scale(1 1.06)">160</text>
<text x="0" y="0" font-size="20.8" fill="#808000" text-anchor="start" transform="translate(604.90 604.92) scale(1 1.06)">160</text>
<text x="0" y="0" font-size="20.8" fill="#FF00FF" text-anchor="end" transform="translate(78.60 573.01) scale(1 1.06)">180</text>
<text x="0" y="0" font-size="20.8" fill="#808000" text-anchor="start" transform="translate(604.90 573.01) scale(1 1.06)">180</text>
<text x="0" y="0" font-size="20.8" fill="#FF00FF" text-anchor="end" transform="translate(78.60 541.10) scale(1 1.06)">200</text>
<text x="0" y="0" font-size="20.8" fill="#808000" text-anchor="start" transform="translate(604.90 541.10) scale(1 1.06)">200</text>
<text x="0" y="0" font-size="22.6" fill="#808000" text-anchor="middle" transform="translate(342.60 498.10) scale(1 1.04)">Ring number / southern section</text>
<text x="0" y="0" font-size="22.6" fill="#FF00FF" text-anchor="middle" transform="translate(342.50 906.60) scale(1 1.04)">Ring number / northern section</text>
<text x="0" y="0" font-size="22.6" fill="#FF00FF" text-anchor="middle" transform="translate(40.00 693.70) rotate(-90) scale(1 1.04)">Torque / kN·m</text>
<text x="0" y="0" font-size="17.7" fill="#808000" text-anchor="middle" transform="translate(656.60 694.00) rotate(-90) scale(1 1.04)">Torque / kN·m</text>
<rect x="114.2" y="557.4" width="157.9" height="43.9" fill="#fff" stroke="#4a4a4a" stroke-width="1"/>
<line x1="116.80" y1="568.90" x2="150.20" y2="568.90" stroke="#FF00FF" stroke-width="4" stroke-linecap="round"/>
<line x1="116.80" y1="589.20" x2="150.20" y2="589.20" stroke="#808000" stroke-width="4" stroke-linecap="round"/>
<text x="0" y="0" font-size="16.5" fill="#000" text-anchor="start" transform="translate(158.80 575.20) scale(1 1.04)">Northern section</text>
<text x="0" y="0" font-size="16.5" fill="#000" text-anchor="start" transform="translate(158.80 595.40) scale(1 1.04)">Southern section</text>
<rect x="373.86" y="647.77" width="24.48" height="81.23" fill="#FCC997" stroke="#222" stroke-width="1"/>
<rect x="404.46" y="571.06" width="24.48" height="157.94" fill="#FCC997" stroke="#222" stroke-width="1"/>
<rect x="435.06" y="607.16" width="24.48" height="121.84" fill="#FCC997" stroke="#222" stroke-width="1"/>
<rect x="465.66" y="656.80" width="24.48" height="72.20" fill="#FCC997" stroke="#222" stroke-width="1"/>
<rect x="496.26" y="683.88" width="24.48" height="45.12" fill="#FCC997" stroke="#222" stroke-width="1"/>
<rect x="526.86" y="706.44" width="24.48" height="22.56" fill="#FCC997" stroke="#222" stroke-width="1"/>
<rect x="557.46" y="706.44" width="24.48" height="22.56" fill="#FCC997" stroke="#222" stroke-width="1"/>
<polyline points="355.50,697.86 357.28,696.45 359.07,694.89 360.86,693.19 362.64,691.32 364.43,689.29 366.21,687.09 368.00,684.72 369.78,682.16 371.56,679.42 373.35,676.49 375.13,673.38 376.92,670.08 378.70,666.60 380.49,662.95 382.27,659.13 384.06,655.16 385.84,651.04 387.63,646.79 389.42,642.43 391.20,637.98 392.99,633.46 394.77,628.89 396.56,624.30 398.34,619.71 400.12,615.16 401.91,610.67 403.69,606.28 405.48,602.02 407.26,597.91 409.05,594.00 410.83,590.30 412.62,586.85 414.40,583.69 416.19,580.83 417.98,578.30 419.76,576.12 421.54,574.31 423.33,572.89 425.12,571.87 426.90,571.26 428.69,571.06 430.47,571.28 432.25,571.92 434.04,572.96 435.82,574.40 437.61,576.23 439.39,578.43 441.18,580.98 442.96,583.86 444.75,587.04 446.53,590.50 448.32,594.21 450.11,598.14 451.89,602.26 453.68,606.53 455.46,610.93 457.25,615.42 459.03,619.97 460.81,624.56 462.60,629.15 464.38,633.72 466.17,638.24 467.95,642.69 469.74,647.04 471.52,651.28 473.31,655.39 475.10,659.36 476.88,663.16 478.66,666.81 480.45,670.27 482.24,673.56 484.02,676.66 485.81,679.58 487.59,682.31 489.38,684.86 491.16,687.22 492.94,689.41 494.73,691.43 496.51,693.29 498.30,694.98 500.08,696.53 501.87,697.94 503.65,699.21 505.44,700.35 507.23,701.38 509.01,702.31 510.79,703.13 512.58,703.86 514.37,704.51 516.15,705.08 517.93,705.58 519.72,706.02 521.50,706.41 523.29,706.75 525.08,707.04 526.86,707.29 528.64,707.51 530.43,707.69 532.22,707.85 534.00,707.99 535.78,708.11 537.57,708.20 539.36,708.29 541.14,708.36 542.92,708.42 544.71,708.47 546.50,708.51 548.28,708.54 550.07,708.57 551.85,708.59 553.63,708.61 555.42,708.63 557.21,708.64 558.99,708.65 560.77,708.66 562.56,708.67 564.35,708.67 566.13,708.68 567.91,708.68 569.70,708.68" fill="none" stroke="#F00" stroke-width="1.5"/>
<line x1="340.40" y1="548.50" x2="340.40" y2="729.50" stroke="#000" stroke-width="1.1" stroke-linecap="butt"/>
<line x1="339.90" y1="729.00" x2="585.50" y2="729.00" stroke="#000" stroke-width="1.1" stroke-linecap="butt"/>
<line x1="340.40" y1="729.00" x2="337.40" y2="729.00" stroke="#000" stroke-width="1.1" stroke-linecap="butt"/>
<line x1="340.40" y1="717.72" x2="338.60" y2="717.72" stroke="#000" stroke-width="1.1" stroke-linecap="butt"/>
<text x="0" y="0" font-size="13.3" fill="#000" text-anchor="end" transform="translate(335.20 733.50) scale(1 1.04)">0</text>
<line x1="340.40" y1="706.44" x2="337.40" y2="706.44" stroke="#000" stroke-width="1.1" stroke-linecap="butt"/>
<line x1="340.40" y1="695.16" x2="338.60" y2="695.16" stroke="#000" stroke-width="1.1" stroke-linecap="butt"/>
<text x="0" y="0" font-size="13.3" fill="#000" text-anchor="end" transform="translate(335.20 710.94) scale(1 1.04)">5</text>
<line x1="340.40" y1="683.88" x2="337.40" y2="683.88" stroke="#000" stroke-width="1.1" stroke-linecap="butt"/>
<line x1="340.40" y1="672.59" x2="338.60" y2="672.59" stroke="#000" stroke-width="1.1" stroke-linecap="butt"/>
<text x="0" y="0" font-size="13.3" fill="#000" text-anchor="end" transform="translate(335.20 688.38) scale(1 1.04)">10</text>
<line x1="340.40" y1="661.31" x2="337.40" y2="661.31" stroke="#000" stroke-width="1.1" stroke-linecap="butt"/>
<line x1="340.40" y1="650.03" x2="338.60" y2="650.03" stroke="#000" stroke-width="1.1" stroke-linecap="butt"/>
<text x="0" y="0" font-size="13.3" fill="#000" text-anchor="end" transform="translate(335.20 665.81) scale(1 1.04)">15</text>
<line x1="340.40" y1="638.75" x2="337.40" y2="638.75" stroke="#000" stroke-width="1.1" stroke-linecap="butt"/>
<line x1="340.40" y1="627.47" x2="338.60" y2="627.47" stroke="#000" stroke-width="1.1" stroke-linecap="butt"/>
<text x="0" y="0" font-size="13.3" fill="#000" text-anchor="end" transform="translate(335.20 643.25) scale(1 1.04)">20</text>
<line x1="340.40" y1="616.19" x2="337.40" y2="616.19" stroke="#000" stroke-width="1.1" stroke-linecap="butt"/>
<line x1="340.40" y1="604.91" x2="338.60" y2="604.91" stroke="#000" stroke-width="1.1" stroke-linecap="butt"/>
<text x="0" y="0" font-size="13.3" fill="#000" text-anchor="end" transform="translate(335.20 620.69) scale(1 1.04)">25</text>
<line x1="340.40" y1="593.62" x2="337.40" y2="593.62" stroke="#000" stroke-width="1.1" stroke-linecap="butt"/>
<line x1="340.40" y1="582.34" x2="338.60" y2="582.34" stroke="#000" stroke-width="1.1" stroke-linecap="butt"/>
<text x="0" y="0" font-size="13.3" fill="#000" text-anchor="end" transform="translate(335.20 598.12) scale(1 1.04)">30</text>
<line x1="340.40" y1="571.06" x2="337.40" y2="571.06" stroke="#000" stroke-width="1.1" stroke-linecap="butt"/>
<line x1="340.40" y1="559.78" x2="338.60" y2="559.78" stroke="#000" stroke-width="1.1" stroke-linecap="butt"/>
<text x="0" y="0" font-size="13.3" fill="#000" text-anchor="end" transform="translate(335.20 575.56) scale(1 1.04)">35</text>
<line x1="340.40" y1="548.50" x2="337.40" y2="548.50" stroke="#000" stroke-width="1.1" stroke-linecap="butt"/>
<text x="0" y="0" font-size="13.3" fill="#000" text-anchor="end" transform="translate(335.20 553.00) scale(1 1.04)">40</text>
<line x1="340.20" y1="729.00" x2="340.20" y2="731.80" stroke="#000" stroke-width="1.1" stroke-linecap="butt"/>
<line x1="355.50" y1="729.00" x2="355.50" y2="730.50" stroke="#000" stroke-width="1.1" stroke-linecap="butt"/>
<text x="0" y="0" font-size="13.3" fill="#000" text-anchor="middle" transform="translate(340.20 744.50) scale(1 1.04)">0</text>
<line x1="370.80" y1="729.00" x2="370.80" y2="731.80" stroke="#000" stroke-width="1.1" stroke-linecap="butt"/>
<line x1="386.10" y1="729.00" x2="386.10" y2="730.50" stroke="#000" stroke-width="1.1" stroke-linecap="butt"/>
<text x="0" y="0" font-size="13.3" fill="#000" text-anchor="middle" transform="translate(370.80 744.50) scale(1 1.04)">10</text>
<line x1="401.40" y1="729.00" x2="401.40" y2="731.80" stroke="#000" stroke-width="1.1" stroke-linecap="butt"/>
<line x1="416.70" y1="729.00" x2="416.70" y2="730.50" stroke="#000" stroke-width="1.1" stroke-linecap="butt"/>
<text x="0" y="0" font-size="13.3" fill="#000" text-anchor="middle" transform="translate(401.40 744.50) scale(1 1.04)">20</text>
<line x1="432.00" y1="729.00" x2="432.00" y2="731.80" stroke="#000" stroke-width="1.1" stroke-linecap="butt"/>
<line x1="447.30" y1="729.00" x2="447.30" y2="730.50" stroke="#000" stroke-width="1.1" stroke-linecap="butt"/>
<text x="0" y="0" font-size="13.3" fill="#000" text-anchor="middle" transform="translate(432.00 744.50) scale(1 1.04)">30</text>
<line x1="462.60" y1="729.00" x2="462.60" y2="731.80" stroke="#000" stroke-width="1.1" stroke-linecap="butt"/>
<line x1="477.90" y1="729.00" x2="477.90" y2="730.50" stroke="#000" stroke-width="1.1" stroke-linecap="butt"/>
<text x="0" y="0" font-size="13.3" fill="#000" text-anchor="middle" transform="translate(462.60 744.50) scale(1 1.04)">40</text>
<line x1="493.20" y1="729.00" x2="493.20" y2="731.80" stroke="#000" stroke-width="1.1" stroke-linecap="butt"/>
<line x1="508.50" y1="729.00" x2="508.50" y2="730.50" stroke="#000" stroke-width="1.1" stroke-linecap="butt"/>
<text x="0" y="0" font-size="13.3" fill="#000" text-anchor="middle" transform="translate(493.20 744.50) scale(1 1.04)">50</text>
<line x1="523.80" y1="729.00" x2="523.80" y2="731.80" stroke="#000" stroke-width="1.1" stroke-linecap="butt"/>
<line x1="539.10" y1="729.00" x2="539.10" y2="730.50" stroke="#000" stroke-width="1.1" stroke-linecap="butt"/>
<text x="0" y="0" font-size="13.3" fill="#000" text-anchor="middle" transform="translate(523.80 744.50) scale(1 1.04)">60</text>
<line x1="554.40" y1="729.00" x2="554.40" y2="731.80" stroke="#000" stroke-width="1.1" stroke-linecap="butt"/>
<line x1="569.70" y1="729.00" x2="569.70" y2="730.50" stroke="#000" stroke-width="1.1" stroke-linecap="butt"/>
<text x="0" y="0" font-size="13.3" fill="#000" text-anchor="middle" transform="translate(554.40 744.50) scale(1 1.04)">70</text>
<line x1="585.00" y1="729.00" x2="585.00" y2="731.80" stroke="#000" stroke-width="1.1" stroke-linecap="butt"/>
<text x="0" y="0" font-size="13.3" fill="#000" text-anchor="middle" transform="translate(585.00 744.50) scale(1 1.04)">80</text>
<text x="0" y="0" font-size="13.5" fill="#000" text-anchor="middle" transform="translate(459.20 756.60) scale(1 1.04)">Torque / kN·m</text>
<text x="0" y="0" font-size="13.5" fill="#000" text-anchor="middle" transform="translate(317.20 638.60) rotate(-90) scale(1 1.04)">Counting</text>
<rect x="492.9" y="559.4" width="63.6" height="21.5" fill="#fff" stroke="#999" stroke-width="0.8"/>
<rect x="494.3" y="561.4" width="18.1" height="8.2" fill="#FCC997" stroke="#111" stroke-width="1"/>
<line x1="493.40" y1="575.40" x2="513.00" y2="575.40" stroke="#F00" stroke-width="1.4" stroke-linecap="butt"/>
<text x="0" y="0" font-size="7.7" fill="#000" text-anchor="start" transform="translate(514.60 567.60) scale(1 1.04)">Frequency</text>
<text x="0" y="0" font-size="7.7" fill="#000" text-anchor="start" transform="translate(514.60 577.80) scale(1 1.04)">Gauss fitting</text>
<text x="0" y="0" font-size="29.5" fill="#000" text-anchor="start" transform="translate(213.00 466.00) scale(1 1.0)">(a)</text>
<text x="0" y="0" font-size="29.5" fill="#000" text-anchor="start" transform="translate(276.20 466.00) scale(1 1.0)">Main cutterhead</text>
<text x="0" y="0" font-size="29.5" fill="#000" text-anchor="start" transform="translate(181.40 951.00) scale(1 1.0)">(b)</text>
<text x="0" y="0" font-size="29.65" fill="#000" text-anchor="start" transform="translate(245.20 951.00) scale(1 1.0)">Secondary cutterhead</text>
</svg></body></html>
